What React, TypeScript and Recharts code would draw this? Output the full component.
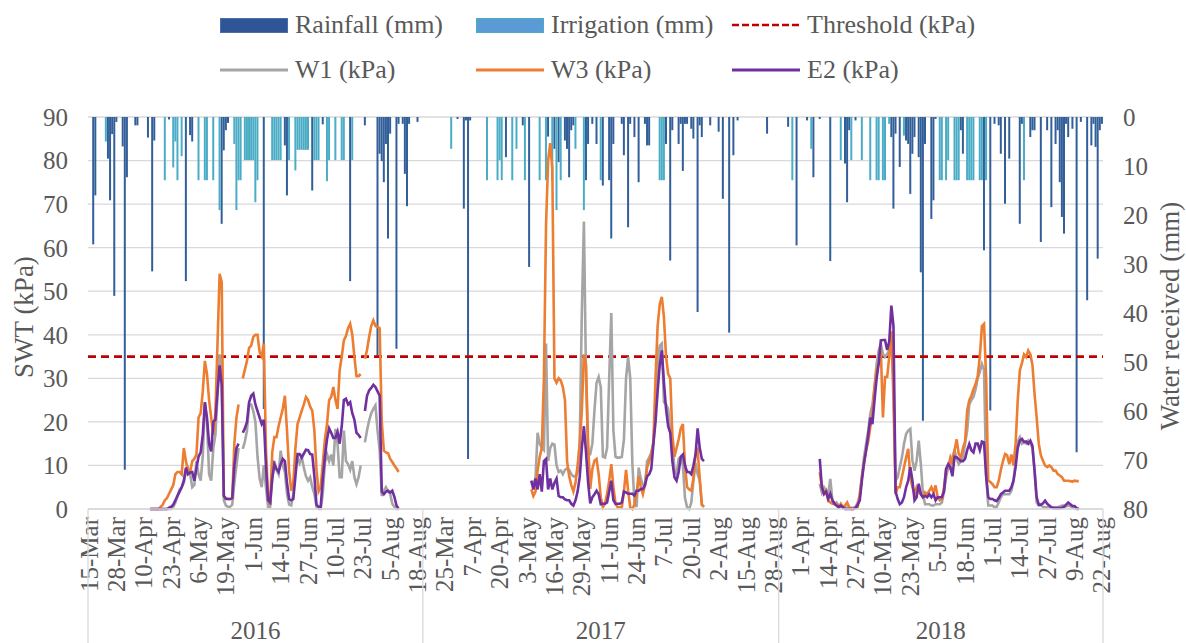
import { ComposedChart, Bar, Line, XAxis, YAxis, CartesianGrid, ReferenceLine } from "recharts";

const SERIF = "'Liberation Serif', 'Times New Roman', serif";
const INK = "#595959";
const RULE = "#d9d9d9";

// chart box
const CHART_W = 1186;
const CHART_H = 643;
const TOP = 117;
const LEFT_AXIS_W = 88;
const RIGHT_AXIS_W = 83;
const X_AXIS_H = 134;

// seasons on the category axis
const YEARS = ["2016", "2017", "2018"];
const SEASON_FIRST_DAY = ["2016-03-15", "2017-03-15", "2018-03-22"];
const SEASON_DAYS = [159, 169, 154];
// day (within its season) of the first tensiometer reading
const SWT_FIRST_DAY = [29, 51, 19];

const THRESHOLD = 35;
const SWT_TICKS = [0, 10, 20, 30, 40, 50, 60, 70, 80, 90];
const WATER_TICKS = [0, 10, 20, 30, 40, 50, 60, 70, 80];
const LABEL_EVERY = 13;
const MONTHS = ["Jan", "Feb", "Mar", "Apr", "May", "Jun", "Jul", "Aug", "Sep", "Oct", "Nov", "Dec"];

// [day of season, mm]
const RAIN_2016 = [
  [2, 26], [3, 16], [9, 8.5], [10, 17], [11, 3.5], [12, 36.5], [13, 1], [16, 6], [17, 72], [18, 12.3],
  [22, 1.7], [23, 1.7], [28, 4.2], [30, 31.5], [31, 4.8], [38, 0.5], [46, 33.5], [48, 3.7], [49, 5],
  [63, 21.8], [64, 6.8], [65, 2.7], [66, 1.2], [83, 59.6], [93, 5.8], [94, 16], [106, 15], [111, 1.5],
  [124, 33.5], [131, 1.7], [137, 49], [138, 7.5], [139, 9], [140, 13.3], [141, 5.5], [142, 24.8],
  [143, 3.4], [146, 47.3], [147, 1.4], [149, 1.4], [150, 11.6], [151, 18.2], [152, 1.4], [156, 1],
];
const IRRIGATION_2016 = [
  [8, 5], [36, 12.9], [40, 10.3], [41, 5], [42, 12.9], [44, 8], [52, 12.9], [55, 12.9], [56, 12.9],
  [59, 12.9], [62, 19], [69, 5.5], [70, 19], [71, 12.9], [72, 12.9], [74, 8.8], [75, 8.8], [76, 8.8],
  [77, 8.8], [78, 8.8], [79, 17.4], [80, 12.9], [87, 8.8], [88, 8.8], [89, 8.8], [90, 8.8], [91, 8.8],
  [95, 8.8], [98, 10.9], [99, 6.7], [100, 6.7], [101, 6.7], [102, 6.7], [103, 6.7], [104, 6.7],
  [107, 8.8], [108, 8.8], [109, 8.8], [113, 13.1], [114, 8.8], [117, 8.8], [120, 8.8], [121, 8.8],
  [125, 8.8],
];
const RAIN_2017 = [
  [16, 0.4], [19, 18.7], [20, 0.7], [21, 69.8], [22, 0.7], [39, 8.2], [47, 1.7], [50, 30.6], [59, 4],
  [62, 6.5], [64, 9.2], [67, 4.8], [68, 6.5], [69, 12.3], [70, 2.7], [71, 1.7], [77, 12.9], [78, 5.5],
  [80, 1.4], [82, 5.5], [85, 14], [88, 12.9], [89, 24.8], [90, 5.5], [94, 1.4], [95, 7.8], [97, 22.5],
  [98, 1.4], [100, 4.1], [102, 13.3], [105, 1.4], [106, 5.8], [107, 5.8], [115, 5.5], [117, 29.3],
  [118, 2.7], [121, 5.5], [122, 1.4], [123, 11], [124, 1.4], [125, 1.4], [127, 2.4], [128, 4.4],
  [130, 39.8], [131, 1.7], [132, 4.1], [136, 1.7], [140, 3], [142, 16.7], [145, 44], [147, 7.8],
  [149, 0.7], [163, 3.4],
];
const IRRIGATION_2017 = [
  [13, 6.5], [30, 12.9], [35, 12.9], [36, 8.8], [37, 12.9], [42, 12.9], [44, 6.5], [48, 12.9],
  [55, 12.9], [58, 12.9], [61, 12.9], [63, 19], [65, 12.9], [72, 6.5], [76, 19], [84, 12.9],
  [112, 12.9], [113, 12.9], [114, 12.9],
];
const RAIN_2018 = [
  [4, 2], [8, 26.2], [13, 0.7], [16, 12.3], [19, 0.4], [24, 29.4], [31, 9.5], [32, 17.4], [33, 2.7],
  [36, 0.7], [53, 4.1], [54, 18.7], [55, 3.4], [57, 10.2], [60, 4.8], [61, 5.5], [62, 15.7], [63, 7.5],
  [64, 4.1], [66, 8.2], [67, 31.7], [68, 62], [69, 5.5], [72, 20.8], [73, 17], [74, 0.4], [86, 2.7],
  [87, 7.5], [97, 27.2], [100, 59.9], [102, 1.4], [104, 1.7], [105, 7.5], [107, 17.7], [109, 8.5],
  [114, 21.8], [115, 1.4], [119, 4.1], [120, 2.7], [121, 2.7], [124, 25.5], [127, 2.7], [129, 18.4],
  [131, 5.5], [132, 2.7], [133, 13.3], [134, 20.4], [135, 23.8], [136, 1.4], [137, 4.1], [139, 2.4],
  [141, 68.4], [143, 1], [146, 37.4], [148, 5.8], [149, 1.4], [150, 6.1], [151, 28.9], [152, 2.7],
  [153, 1.4],
];
const IRRIGATION_2018 = [
  [6, 12.9], [15, 6.5], [29, 8.8], [34, 8.8], [39, 8.8], [43, 12.9], [46, 12.9], [47, 12.9], [49, 12.9],
  [50, 12.9], [52, 1.4], [59, 3.8], [76, 12.9], [77, 12.9], [79, 12.9], [80, 8.8], [83, 12.9], [84, 12.9],
  [85, 12.9], [89, 12.9], [90, 12.9], [91, 12.9], [92, 12.9], [95, 12.9], [96, 12.9], [98, 12.9],
  [116, 12.9],
];

// daily soil water tension (kPa), null = missing reading
const W1_2016 = [
  0, 0, 0, 0, 0, 0, 0, 0, 0, 0,
  0, 0.5, 1.5, 3, 4.5, 5, 6, 8.5, 9.5, 8,
  5, 5.5, 11, 8, 6.5, 12, 24.5, 20, 8, 6.5,
  14, 17, 26, 35.5, 30, 2, 0.8, 0.5, 0.5, 1,
  6, 10, 14, null, 13.8, 15.5, 18, 24, 24, 22.5,
  20, 12, 7, 5, 10, 5, 0.5, 0.5, 7, 11,
  9, 8, 13.4, 10, 8.5, 3.5, 1, 0.8, 3.5, 11,
  12, 10.5, 11.9, 9.5, 7.5, 6.5, 7.3, 5, 3.5, 0.5,
  0, 0, 3.5, 10.5, 12.6, 11, 12.5, 10, 18.4, 15,
  7.3, 7.3, 18, 11, 10.3, 9, 11, 7.3, 5.7, 7.3,
  10, null, 15.3, 18, 20.3, 22, 23, 23.8, 18, 13.5,
  3, 4.2, 5, 4, 3.5, 1.2, 0.5, 0, 0,
];
const W3_2016 = [
  0, 0, 0, 0, 0, 0.5, 1, 2, 2.5, 3.5,
  4.5, 5.5, 8, 8.5, 8.5, 8, 14, 11, 8.5, 8.5,
  11, 11.5, 12.5, 21, 22, 27, 34, 31, 25, 21,
  17, 22, 38, 54, 52, 3, 2.5, 2.3, 2.3, 2.5,
  15, 21, 24, null, 30, 32, 34, 37, 37.5, 39.5,
  40, 40, 36, 35, 38, 14, 3, 1, 13, 16.5,
  16.5, 19, 21, 23, 26, 18, 8.8, 4.2, 6, 14,
  19.5, 21, 22.6, 24, 25.7, 25, 23.5, 22.6, 18, 9,
  4, 5, 10.5, 16, 19.5, 25, 25.7, 28, 25, 23,
  31.8, 35, 38.7, 39.7, 41.5, 42.5, 40, 35, 30.5, 30.5,
  31, null, 34.5, 36.5, 39.5, 42, 43.3, 42, 41.8, 41.5,
  20, 13.4, 13, 12.8, 11.5, 10.8, 10, 9.3, 8.5,
];
const E2_2016 = [
  0, 0, 0, 0, 0, 0, 0, 0, 0, 0.3,
  0.5, 1, 2, 3, 4, 5, 6.5, 9.5, 8, 8.4,
  8.5, 6.5, 9.5, 12, 13, 17, 24.5, 21, 15, 13.2,
  20, 20.5, 27, 33, 28.5, 3, 2.3, 2.3, 2.3, 2.5,
  10, 14, 15, null, 17.5, 18.5, 20, 24.5, 26, 26.5,
  24, 22.5, 21, 19.5, 20.5, 10, 2, 1.5, 7, 10.3,
  9.2, 8.5, 10.3, 11.5, 11, 6, 2.3, 2, 2.3, 7.5,
  12.6, 12.6, 11.8, 12.7, 13.6, 13.5, 12.6, 12.5, 7.5, 1,
  0.5, 0.5, 7, 12, 16, 18.5, 17.5, 16.3, 16.3, 17.7,
  15, 19, 25, 25.3, 24, 24.5, 22, 20.5, 17.5, 17,
  16.3, null, 22.5, 26, 27.2, 27.8, 28.5, 28, 27, 26,
  4, 3.4, 4, 4.2, 3.8, 4.2, 2.8, 0.8, 0,
];

const W1_2017 = [
  6.5, 5.5, 7, 17.5, 15, 14, 13.5, 38, 11, 14,
  15, 14.8, 10, 8.5, 8.8, 8, 9, 9.3, 9, 8,
  7.5, 7.5, 8.5, 15, 45, 66, 30, 12.6, 12.6, 15,
  22.6, 29, 30.3, 28, 12, 11.8, 14, 30, 45, 18,
  12, 11.8, 11.8, 12, 16, 30, 34.9, 30, 10.5, 1.5,
  0.5, 9.5, 7, 5.5, 5.5, 11, 11.8, 13, 15, 23,
  33, 37.5, 38, 24.5, 24, 23, 18, 15.5, 9, 8,
  11.5, 12, 10, 2.5, 0.4, 0, 1.5, 6.5, 10.5, 8,
  6.5, 1, 0.5,
];
const W3_2017 = [
  4.5, 3, 4, 8.8, 12, 14, 30, 65, 80, 84,
  78, 30, 29, 30, 29.5, 28, 25, 11, 7.5, 5.5,
  4, 6, 10, 15, 22.6, 35.5, 33, 15, 4.6, 9.2,
  11.1, 11.5, 8, 2.7, 0.4, 1.2, 3.5, 6.5, 10.3, 5,
  1.2, 0.4, 0.4, 0.4, 4, 9, 4.2, 0.4, 0, 1,
  3.5, 7.5, 5, 3.4, 5.5, 9.5, 11, 12.6, 15.5, 30,
  42, 47, 48.7, 44, 35, 31, 30, 17, 12, 14,
  16, 18.5, 19.5, 10, 5, 4.5, 4.2, 7, 12.5, 13.5,
  7, 1, 0.5,
];
const E2_2017 = [
  6.5, 4.5, 7, 4.5, 8, 4, 11, 11.5, 4.5, 7,
  4.5, 6, 7, 3, 2.7, 2.7, 2.2, 2, 2, 1.2,
  0.8, 2, 4, 7.3, 14, 19, 13, 6, 1.3, 2.7,
  3.4, 4.2, 3.4, 1.1, 1.2, 1.2, 1.5, 4, 6.5, 2,
  1.2, 1.2, 1.2, 1.5, 4, 3.8, 3.5, 3.5, 3.5, 3.1,
  4.2, 4.2, 4.6, 4.6, 5.5, 7.5, 8, 9.2, 15, 20,
  27, 33, 36.4, 29, 23, 19, 17.5, 11, 7.3, 6.5,
  8.5, 12, 12.5, 10, 8.5, 8.5, 8, 10, 12.5, 18.5,
  14, 11.5, 11,
];

const W1_2018 = [
  5.8, 3.8, 5, 4.2, 3.4, 6.9, 1.9, 1.1, 1.5, 0.8,
  0.5, 0.4, 0.4, 0.3, 0.3, 0.3, 0.3, 0.5, 1.5, 3,
  7.3, 11.9, 15, 18, 21.8, 24, 28, 33.3, 36.4, 37.9,
  35.6, 34.9, 35.6, 36.4, 40.2, 30, 6.5, 7.3, 9.6, 11.8,
  14.9, 17.2, 18, 18.4, 11.1, 8.8, 11.1, 15.7, 10.3, 3.4,
  1.1, 1.1, 1.1, 0.8, 0.8, 1.1, 1.1, 1.1, 1.5, 4,
  7.3, 9.6, 9.2, 12, 13.5, 11.5, 10.3, 11, 11.9, 15,
  18, 24, 25, 25.7, 27.5, 30, 31.5, 33.3, 32, 8,
  0.8, 0.8, 0.8, 0.4, 0.5, 1.5, 2.7, 3.4, 3.4, 3.4,
  3.4, 4.2, 6.5, 11, 15.5, 16.5, 15, 15.3, 15, 15.7,
  15, 14, 8.8, 1.5, 0.8, 0.8, 0.5, 0.4, 0.4, 0.4,
  0.4, 0.4, 0.4, 0.4, 0.6, 0.8, 0.8, 0.6, 0.8, 0.6,
  0.4, 0.2, 0, 0,
];
const W3_2018 = [
  8.4, 5, 3.4, 4.2, 2, 1.5, 1.2, 1.5, 0.8, 0.4,
  1.2, 0.4, 0.8, 1.5, 0.4, 0, 0, 0.4, 0.4, 3.4,
  7.5, 10.5, 13.5, 15.5, 18.8, 21.8, 28, 32, 33.3, 36.4,
  21, 30.3, 30.3, 35, 40.8, 25, 3.4, 5, 5, 7.3,
  9.6, 11.8, 13.8, 7.3, 5, 3.4, 5, 4.2, 3.4, 2.7,
  3.8, 3.4, 4.2, 5, 3.8, 5.4, 2.7, 2, 2.3, 5,
  9.2, 9.6, 11.8, 10.3, 13.4, 16, 12.6, 11.9, 14, 15.5,
  22.6, 25, 26, 27.5, 28.7, 30.5, 35, 42, 42.5, 30,
  6.5, 6.2, 5.7, 5, 5, 6.5, 9, 11, 12.6, 12.3,
  10.3, 12.5, 10, 15, 24.9, 31.8, 33.5, 35.5, 34.9, 36.4,
  35.5, 33, 26.4, 21, 15, 12.3, 11.1, 10, 9.6, 10,
  9.6, 8.8, 8.8, 8, 7.7, 7.3, 6.5, 6.5, 6.5, 6.4,
  6.3, 6.5, 6.4, 6.4,
];
const E2_2018 = [
  11.5, 5, 3.5, 4, 2.3, 3.5, 2, 1.2, 0.8, 0.4,
  0.8, 0.4, 0, 0, 0, 0, 0, 0.2, 1, 2,
  6.5, 10.5, 13.5, 17, 21, 19.5, 25, 30, 33.5, 38.7,
  38.8, 38.8, 36.5, 38.5, 46.7, 42, 4, 2.3, 1.1, 1.5,
  2.7, 5, 6.5, 9.6, 6.5, 2, 2.7, 5.8, 3.4, 2.7,
  3, 2.7, 3.4, 2.7, 3.4, 2, 2.7, 2.7, 2.7, 4,
  9.2, 10.3, 9.6, 7.5, 12, 11.9, 11.5, 11, 11, 11.5,
  13.5, 14.9, 13.5, 13, 15, 15, 13.5, 15.5, 15.3, 7.5,
  2.7, 2.3, 2.3, 2, 1.8, 2.5, 3.4, 3.8, 4.2, 4.2,
  4.2, 5, 6.5, 9.6, 14, 15.7, 16.1, 15.4, 15.5, 15,
  15.7, 14.5, 8.8, 2.7, 1, 1, 1.3, 1.9, 1.2, 0.8,
  0.4, 0.2, 0.2, 0.2, 0.2, 0.3, 0.5, 1, 1.5, 1.1,
  0.7, 0.7, 0.2, 0,
];

const RAIN = [RAIN_2016, RAIN_2017, RAIN_2018];
const IRRIGATION = [IRRIGATION_2016, IRRIGATION_2017, IRRIGATION_2018];
const W1 = [W1_2016, W1_2017, W1_2018];
const W3 = [W3_2016, W3_2017, W3_2018];
const E2 = [E2_2016, E2_2017, E2_2018];

type Row = {
  key: string;
  label: string;
  rain: number | null;
  irr: number | null;
  w1: number | null;
  w3: number | null;
  e2: number | null;
};

const rows: Row[] = [];
const seasonStart: number[] = [];
YEARS.forEach((year, s) => {
  seasonStart.push(rows.length);
  const rain = new Map(RAIN[s].map(([d, v]) => [d, v] as [number, number]));
  const irr = new Map(IRRIGATION[s].map(([d, v]) => [d, v] as [number, number]));
  const first = new Date(SEASON_FIRST_DAY[s] + "T00:00:00Z").getTime();
  for (let d = 0; d < SEASON_DAYS[s]; d++) {
    const date = new Date(first + d * 86400000);
    const k = d - SWT_FIRST_DAY[s];
    rows.push({
      key: `${year}-${d}`,
      label: `${date.getUTCDate()}-${MONTHS[date.getUTCMonth()]}`,
      rain: rain.get(d) ?? null,
      irr: irr.get(d) ?? null,
      w1: W1[s][k] ?? null,
      w3: W3[s][k] ?? null,
      e2: E2[s][k] ?? null,
    });
  }
});

const PLOT_W = CHART_W - LEFT_AXIS_W - RIGHT_AXIS_W;
const BAND = PLOT_W / rows.length;
const AXIS_Y = CHART_H - X_AXIS_H;

// date labels every 13 days, plus the year row and the season dividers
function DateTick(props: any) {
  const { x, y, index } = props;
  const row = rows[index];
  if (!row) return <g />;
  const parts: any[] = [];
  if (index % LABEL_EVERY === 0) {
    parts.push(
      <text
        key="d"
        x={x}
        y={y}
        transform={`rotate(-90 ${x} ${y})`}
        textAnchor="end"
        dominantBaseline="central"
        fontFamily={SERIF}
        fontSize={25}
        fill={INK}
      >
        {row.label}
      </text>
    );
  }
  const s = seasonStart.indexOf(index);
  if (s >= 0) {
    const left = x - BAND / 2;
    parts.push(<line key="sep" x1={left} x2={left} y1={AXIS_Y} y2={CHART_H} stroke={RULE} strokeWidth={1.3} />);
    parts.push(
      <text
        key="yr"
        x={x + ((SEASON_DAYS[s] - 1) / 2) * BAND}
        y={630}
        textAnchor="middle"
        dominantBaseline="central"
        fontFamily={SERIF}
        fontSize={25}
        fill={INK}
      >
        {YEARS[s]}
      </text>
    );
  }
  if (index === rows.length - 1) {
    const right = x + BAND / 2;
    parts.push(<line key="end" x1={right} x2={right} y1={AXIS_Y} y2={CHART_H} stroke={RULE} strokeWidth={1.3} />);
  }
  return <g>{parts}</g>;
}

function AxisTitle({ text, cx, cy }: { text: string; cx: number; cy: number }) {
  return (
    <text
      x={cx}
      y={cy}
      transform={`rotate(-90 ${cx} ${cy})`}
      textAnchor="middle"
      dominantBaseline="central"
      fontFamily={SERIF}
      fontSize={27}
      fill={INK}
    >
      {text}
    </text>
  );
}

const LEGEND = [
  { name: "Rainfall (mm)", kind: "box", color: "#2f5597", edge: "#4a6fa8" },
  { name: "Irrigation (mm)", kind: "box", color: "#5b9bd5", edge: "#4bacc6" },
  { name: "Threshold (kPa)", kind: "dash", color: "#c00000", edge: "" },
  { name: "W1 (kPa)", kind: "line", color: "#a5a5a5", edge: "" },
  { name: "W3 (kPa)", kind: "line", color: "#ed7d31", edge: "" },
  { name: "E2 (kPa)", kind: "line", color: "#7030a0", edge: "" },
];

function LegendKey({ kind, color, edge }: { kind: string; color: string; edge: string }) {
  if (kind === "box") {
    return <div style={{ width: 66, height: 13, background: color, border: `1px solid ${edge}` }} />;
  }
  return (
    <svg width={68} height={16}>
      <line
        x1={0}
        x2={68}
        y1={8}
        y2={8}
        stroke={color}
        strokeWidth={kind === "dash" ? 2.5 : 3}
        strokeDasharray={kind === "dash" ? "7 3" : undefined}
      />
    </svg>
  );
}

export default function App() {
  return (
    <div style={{ position: "relative", width: CHART_W, height: CHART_H, background: "#fff" }}>
      <style>{"body{margin:0}"}</style>
      {LEGEND.map((item, i) => (
        <div
          key={item.name}
          style={{
            position: "absolute",
            left: 220 + (i % 3) * 256,
            top: (i < 3 ? 25 : 70) - 16,
            height: 32,
            display: "flex",
            alignItems: "center",
            gap: 7,
            fontFamily: SERIF,
            fontSize: 26,
            color: INK,
            whiteSpace: "nowrap",
          }}
        >
          <LegendKey kind={item.kind} color={item.color} edge={item.edge} />
          <span>{item.name}</span>
        </div>
      ))}
      <ComposedChart
        width={CHART_W}
        height={CHART_H}
        data={rows}
        margin={{ top: TOP, right: 0, bottom: 0, left: 0 }}
        barGap={-2}
      >
        <CartesianGrid yAxisId="left" vertical={false} stroke={RULE} strokeWidth={1.3} />
        <XAxis
          dataKey="key"
          interval={0}
          height={X_AXIS_H}
          tickLine={false}
          axisLine={{ stroke: RULE, strokeWidth: 1.3 }}
          tick={(p: any) => <DateTick {...p} />}
        />
        <YAxis
          yAxisId="left"
          width={LEFT_AXIS_W}
          domain={[0, 90]}
          ticks={SWT_TICKS}
          axisLine={false}
          tickLine={false}
          tickMargin={14}
          tick={{ fill: INK, fontSize: 25, fontFamily: SERIF }}
          label={(p: any) => (
            <AxisTitle text="SWT (kPa)" cx={p.viewBox.x + 24} cy={p.viewBox.y + p.viewBox.height / 2 + 4} />
          )}
        />
        <YAxis
          yAxisId="right"
          orientation="right"
          width={RIGHT_AXIS_W}
          domain={[0, 80]}
          ticks={WATER_TICKS}
          reversed
          axisLine={false}
          tickLine={false}
          tickMargin={14}
          tick={{ fill: INK, fontSize: 25, fontFamily: SERIF }}
          label={(p: any) => (
            <AxisTitle
              text="Water received (mm)"
              cx={p.viewBox.x + 67}
              cy={p.viewBox.y + p.viewBox.height / 2 + 3}
            />
          )}
        />
        <Bar yAxisId="right" dataKey="rain" name="Rainfall (mm)" fill="#325f99" barSize={2} isAnimationActive={false} />
        <Bar yAxisId="right" dataKey="irr" name="Irrigation (mm)" fill="#4bacc6" barSize={2} isAnimationActive={false} />
        <ReferenceLine
          yAxisId="left"
          y={THRESHOLD}
          stroke="#c00000"
          strokeWidth={2.8}
          strokeDasharray="8 5"
        />
        <Line
          yAxisId="left"
          dataKey="w1"
          name="W1 (kPa)"
          type="linear"
          stroke="#a5a5a5"
          strokeWidth={2.6}
          dot={false}
          activeDot={false}
          isAnimationActive={false}
        />
        <Line
          yAxisId="left"
          dataKey="w3"
          name="W3 (kPa)"
          type="linear"
          stroke="#ed7d31"
          strokeWidth={2.6}
          dot={false}
          activeDot={false}
          isAnimationActive={false}
        />
        <Line
          yAxisId="left"
          dataKey="e2"
          name="E2 (kPa)"
          type="linear"
          stroke="#7030a0"
          strokeWidth={2.6}
          dot={false}
          activeDot={false}
          isAnimationActive={false}
        />
      </ComposedChart>
    </div>
  );
}
